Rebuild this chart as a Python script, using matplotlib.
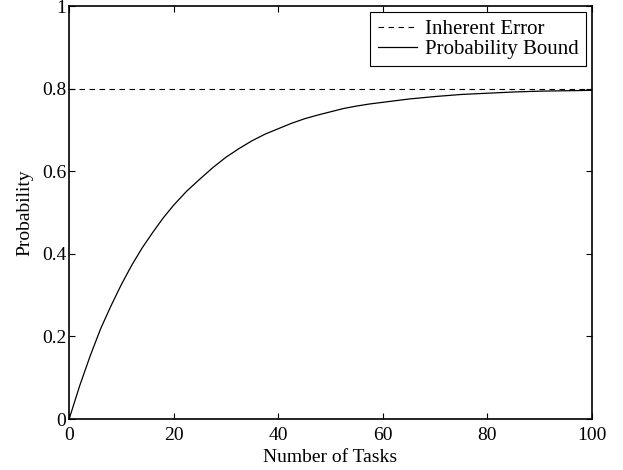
import matplotlib
matplotlib.use("Agg")
import matplotlib.pyplot as plt

# values
tasks = [0, 2, 4, 6, 8, 10, 12, 14, 16, 18, 20, 22.5, 25, 27.5, 30, 32.5,
         35, 37.5, 40, 42.5, 45, 47.5, 50, 52.5, 55, 57.5, 60, 65, 70, 75,
         80, 85, 90, 95, 100]
prob_bound = [0.0, 0.080, 0.152, 0.218, 0.274, 0.326, 0.373, 0.415, 0.452,
              0.487, 0.518, 0.552, 0.581, 0.609, 0.634, 0.655, 0.674, 0.690,
              0.703, 0.716, 0.727, 0.736, 0.744, 0.752, 0.758, 0.763, 0.767,
              0.775, 0.781, 0.786, 0.789, 0.792, 0.794, 0.795, 0.796]
inherent_error = 0.8

x_ticks = [0, 20, 40, 60, 80, 100]
y_ticks = [0, 0.2, 0.4, 0.6, 0.8, 1]
y_tick_labels = ["0", "0.2", "0.4", "0.6", "0.8", "1"]

plt.rcParams["font.family"] = ["Liberation Serif", "DejaVu Serif"]
plt.rcParams["font.size"] = 14

fig = plt.figure(figsize=(6.23, 4.70), dpi=100)
ax = fig.add_axes([0.111, 0.1085, 0.839, 0.8785])

ax.axhline(inherent_error, color="black", linestyle=(0, (5, 4)), linewidth=0.8,
           label="Inherent Error")
ax.plot(tasks, prob_bound, color="black", linewidth=0.9, label="Probability Bound")

ax.set_xlim(0, 100)
ax.set_ylim(0, 1)
ax.set_xticks(x_ticks)
ax.set_yticks(y_ticks)
ax.set_yticklabels(y_tick_labels)
ax.tick_params(direction="in", top=True, right=True, length=4, width=0.8)
ax.tick_params(axis="x", pad=6)
ax.tick_params(axis="y", pad=2)
for s in ax.spines.values():
    s.set_linewidth(1.2)

ax.set_xlabel("Number of Tasks", labelpad=3)
ax.set_ylabel("Probability", labelpad=6)

# legend box in the top right corner, square edges like the original
leg = ax.legend(loc="upper right", fancybox=False, edgecolor="black",
                framealpha=1, handlelength=1.9, borderaxespad=0.3,
                borderpad=0.35, labelspacing=0.0, handletextpad=0.35,
                prop={"size": 15})
leg.get_frame().set_linewidth(0.8)

fig.savefig("out.png", dpi=100)
